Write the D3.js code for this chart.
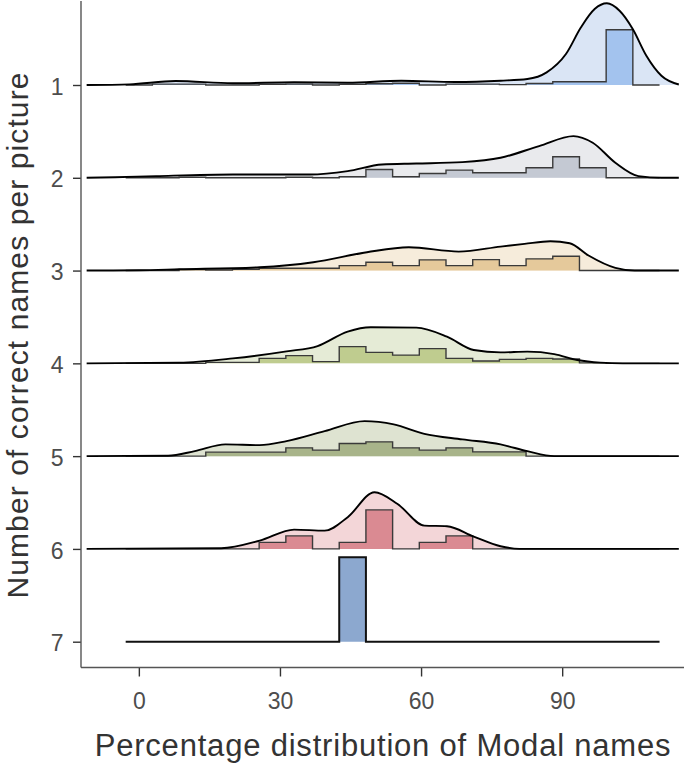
<!DOCTYPE html>
<html>
<head>
<meta charset="utf-8">
<script src="https://cdn.jsdelivr.net/npm/d3@7"></script>
<style>
  body { margin: 0; background: #fff; }
  svg { display: block; font-family: "Liberation Sans", Arial, sans-serif; }
</style>
</head>
<body>
<script>
// rows: number of correct names per picture, top to bottom
var groups = ['1', '2', '3', '4', '5', '6', '7'];
var ticksX = [0, 30, 60, 90];

// histogram bins (percentage of modal names)
var binStart = -2.8;
var binWidth = 5.675;

// share of pictures per bin (%), 20 bins per row
var hist1 = [0, 1, 1, 0, 0, 0.8, 1, 0, 0.8, 1.4, 2, 0, 1, 1, 0.5, 1.8, 3.9, 3.9, 65.5, 0];
var hist2 = [0, 0, 0.6, 0, 0, 0, 0.6, 0, 1.2, 9.8, 1.2, 5.1, 9.1, 5.9, 5.9, 11.9, 24.9, 11.9, 0, 0];
var hist3 = [0, 0, 1.2, 0.6, 1.5, 2.7, 2.7, 2.7, 5.9, 9.8, 5.9, 12.7, 5.9, 13, 5.9, 13.9, 16.9, 0, 0, 0];
var hist4 = [0, 0, 0, 1.2, 1.2, 5.9, 9.1, 2, 19.8, 13, 9.8, 17.4, 5.9, 2.7, 4.7, 5.9, 5.1, 0.6, 0, 0];
var hist5 = [0, 0, 0, 4.7, 4.7, 4.7, 9.8, 7.1, 15, 16.9, 9.8, 7.1, 9.8, 5.1, 5.1, 0, 0, 0, 0, 0];
var hist6 = [0, 0, 0, 0, 0, 7.7, 15.4, 0, 7.7, 46.2, 0, 7.7, 15.4, 0, 0, 0, 0, 0, 0, 0];
var hist7 = [0, 0, 0, 0, 0, 0, 0, 0, 100, 0, 0, 0, 0, 0, 0, 0, 0, 0, 0, 0];

// smoothed density, [percentage, height in same units as the bins]
var density1 = [[-11.1, 0], [-2, 0.8], [7.8, 4.7], [20, 2], [33, 3.2], [44.4, 2.7], [55.8, 5.1], [67.2, 3.6],
  [76.9, 5.1], [82.6, 7.1], [86.7, 15], [90.8, 36.7], [94, 68.4], [96.9, 90], [99.5, 96.8], [102.2, 88],
  [105, 66.4], [107.9, 34.7], [111.1, 11], [114.8, 0.6]];
var density2 = [[-11.1, 0], [-5, 0.6], [3.7, 2], [20, 3.9], [36.3, 3.9], [44.4, 7.9], [51.7, 15.8], [59, 16.9],
  [68.8, 18.6], [76.9, 23.7], [85.1, 37.6], [92.4, 49.4], [96.5, 41.5], [101.3, 17.8], [106.2, 2], [111.1, 0], [114.8, 0]];
var density3 = [[-11.1, 0], [0, 0.4], [8.6, 1.5], [25.7, 3.9], [37.1, 9.8], [48.5, 21.7], [57.4, 27.6], [68, 22.5],
  [76.9, 28.4], [82, 31.6], [87.5, 34.7], [91.6, 32.4], [95.6, 17.8], [101.3, 3.2], [105.4, 0], [114.8, 0]];
var density4 = [[-11.1, 0], [8.6, 0.8], [20, 5.9], [31.4, 14.2], [38, 20.5], [44.4, 37.6], [49.3, 42.7], [59, 42.3],
  [65.5, 31.6], [71.2, 15.8], [76.9, 13], [82.6, 13.9], [88.3, 11], [93.2, 3.9], [98.1, 0.8], [102.9, 0], [114.8, 0]];
var density5 = [[-11.1, 0], [6.2, 0.4], [11.9, 5.9], [18.4, 13.9], [25.7, 13], [31.4, 17.8], [39.5, 29.6], [48, 41.5],
  [54.2, 37.6], [60.7, 26.4], [68.8, 19.8], [76.9, 13.9], [82.6, 5.9], [88.3, 0], [114.8, 0]];
var density6 = [[-11.1, 0], [17.5, 0.8], [25.7, 9.8], [33, 22.9], [39.5, 21.7], [44.4, 37.6], [50.1, 67.2], [55, 53.3],
  [60.7, 27.6], [65.5, 26.9], [71.2, 14.6], [76.9, 3.2], [80.9, 0], [114.8, 0]];

var hists = [hist1, hist2, hist3, hist4, hist5, hist6, hist7];
var densities = [density1, density2, density3, density4, density5, density6, null];

var densityFills = ['#dae5f5', '#e9eaed', '#f6ecdb', '#e5ebd6', '#dee3d1', '#f3d6d8', null];
var histFills = ['#a3c3ee', '#c4c9d3', '#e5c99b', '#bfcc8f', '#a8b48a', '#da8a92', '#8ca8cf'];

var width = 685, height = 766;

var svg = d3.select('body').append('svg')
  .attr('width', width)
  .attr('height', height);

var x = d3.scaleLinear().domain([-12.3, 115.9]).range([81, 684]);
var y = d3.scalePoint().domain(groups).range([85, 641.7]);
var h = d3.scaleLinear().domain([0, 100]).range([0, 84.4]);

// step outline for a row of bins
var histPoints = function(counts) {
  var end = binStart + counts.length * binWidth;
  var pts = [[binStart, 0]];
  counts.forEach(function(c, i) { pts.push([binStart + i * binWidth, c]); });
  pts.push([end, counts[counts.length - 1]]);
  pts.push([end, 0]);
  return pts;
};

groups.forEach(function(g, i) {
  var base = y(g);
  var row = svg.append('g').attr('class', 'ridge');

  var area = function(curve) {
    return d3.area()
      .curve(curve)
      .x(function(d) { return x(d[0]); })
      .y0(base)
      .y1(function(d) { return base - h(d[1]); });
  };
  var line = function(curve) {
    return d3.line()
      .curve(curve)
      .x(function(d) { return x(d[0]); })
      .y(function(d) { return base - h(d[1]); });
  };

  var dens = densities[i];
  var hp = histPoints(hists[i]);

  if (dens) {
    row.append('path')
      .attr('d', area(d3.curveMonotoneX)(dens))
      .attr('fill', densityFills[i]);
  }

  row.append('path')
    .attr('d', area(d3.curveStepAfter)(hp))
    .attr('fill', histFills[i]);

  row.append('path')
    .attr('d', line(d3.curveStepAfter)(hp))
    .attr('fill', 'none')
    .attr('stroke', dens ? '#3a3a3a' : '#111')
    .attr('stroke-width', dens ? 1.4 : 2);

  if (dens) {
    row.append('path')
      .attr('d', line(d3.curveMonotoneX)(dens))
      .attr('fill', 'none')
      .attr('stroke', '#000')
      .attr('stroke-width', 1.9);
  }
});

// axes
var xAxis = svg.append('g')
  .attr('transform', 'translate(0,667.5)')
  .call(d3.axisBottom(x).tickValues(ticksX).tickSize(9).tickSizeOuter(0).tickPadding(15.7));

var yAxis = svg.append('g')
  .attr('transform', 'translate(81,0)')
  .call(d3.axisLeft(y).tickSize(8).tickSizeOuter(0).tickPadding(9.5));

yAxis.select('.domain').remove();
xAxis.select('.domain').remove();

svg.append('line')
  .attr('x1', 81).attr('x2', 684)
  .attr('y1', 667.5).attr('y2', 667.5)
  .attr('stroke', '#555').attr('stroke-width', 1.4);
svg.append('line')
  .attr('x1', 81).attr('x2', 81)
  .attr('y1', 1).attr('y2', 667.5)
  .attr('stroke', '#555').attr('stroke-width', 1.4);

svg.selectAll('.tick line').attr('stroke', '#333').attr('stroke-width', 1.4);
svg.selectAll('.tick text')
  .attr('fill', '#4d4d4d')
  .style('font-size', '23px')
  .style('font-family', '"Liberation Sans", Arial, sans-serif');
yAxis.selectAll('.tick text').attr('dy', '0.4em');

svg.append('text')
  .attr('x', 383)
  .attr('y', 756)
  .attr('text-anchor', 'middle')
  .attr('fill', '#333')
  .style('font-size', '31px')
  .style('letter-spacing', '0.8px')
  .text('Percentage distribution of Modal names');

svg.append('text')
  .attr('transform', 'translate(27.5,335) rotate(-90)')
  .attr('text-anchor', 'middle')
  .attr('fill', '#333')
  .style('font-size', '30px')
  .style('letter-spacing', '1.1px')
  .text('Number of correct names per picture');
</script>
</body>
</html>
